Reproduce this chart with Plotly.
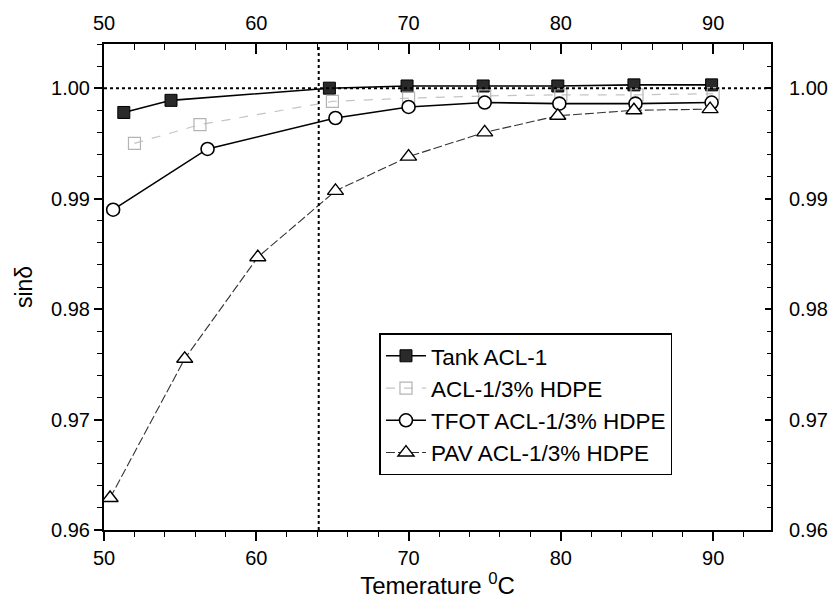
import plotly.graph_objects as go

# ---- data ----
tank_x = [51.3, 54.4, 64.8, 69.9, 74.9, 79.8, 84.8, 89.9]
tank_y = [0.9978, 0.9989, 1.0000, 1.0002, 1.0002, 1.0002, 1.0003, 1.0003]

hdpe_x = [52.0, 56.3, 65.0, 70.0, 75.0, 80.0, 85.0, 90.0]
hdpe_y = [0.9950, 0.9967, 0.9988, 0.9991, 0.9993, 0.9994, 0.9994, 0.9995]

tfot_x = [50.6, 56.8, 65.2, 70.0, 75.0, 79.9, 84.9, 89.9]
tfot_y = [0.9890, 0.9945, 0.9973, 0.9983, 0.9987, 0.9986, 0.9986, 0.9987]

pav_x = [50.4, 55.3, 60.1, 65.2, 70.0, 75.0, 79.8, 84.8, 89.8]
pav_y = [0.9629, 0.9755, 0.9847, 0.9907, 0.9938, 0.9960, 0.9975, 0.9980, 0.9981]

names = ["Tank ACL-1", "ACL-1/3% HDPE", "TFOT ACL-1/3% HDPE", "PAV ACL-1/3% HDPE"]

vline_x = 64.1
hline_y = 1.00
x_range = [50, 93.8]
y_range = [0.96, 1.004]
x_ticks = [50, 60, 70, 80, 90]
y_ticks = [0.96, 0.97, 0.98, 0.99, 1.00]

FONT = "Liberation Sans, Arial, sans-serif"

fig = go.Figure()

fig.add_trace(go.Scatter(
    x=tank_x, y=tank_y, name=names[0], mode="lines+markers",
    line=dict(color="black", width=1.6),
    marker=dict(symbol="square", size=12, color="#2a2a2a",
                line=dict(color="black", width=1))))
fig.add_trace(go.Scatter(
    x=hdpe_x, y=hdpe_y, name=names[1], mode="lines+markers",
    line=dict(color="#c4c4c4", width=1.2, dash="dash"),
    marker=dict(symbol="square-open", size=12, color="#b4b4b4",
                line=dict(color="#b4b4b4", width=1.2))))
fig.add_trace(go.Scatter(
    x=tfot_x, y=tfot_y, name=names[2], mode="lines+markers",
    line=dict(color="black", width=1.6),
    marker=dict(symbol="circle", size=13, color="white",
                line=dict(color="black", width=1.6))))
fig.add_trace(go.Scatter(
    x=pav_x, y=pav_y, name=names[3], mode="lines+markers",
    line=dict(color="#333333", width=1.1, dash="9px,3px"),
    marker=dict(symbol="triangle-up", size=14, color="white",
                line=dict(color="black", width=1.4))))

# invisible trace to anchor the top/right axes
fig.add_trace(go.Scatter(x=x_range, y=y_range, xaxis="x2", yaxis="y2",
                         mode="markers", marker=dict(opacity=0),
                         showlegend=False, hoverinfo="skip"))

# reference dotted lines
fig.add_shape(type="line", x0=vline_x, x1=vline_x, y0=0, y1=1,
              xref="x", yref="paper", line=dict(color="black", width=2, dash="dot"))
fig.add_shape(type="line", x0=0, x1=1, y0=hline_y, y1=hline_y,
              xref="paper", yref="y", line=dict(color="black", width=2, dash="dot"))

tickfont = dict(family=FONT, size=20, color="black")

fig.update_layout(
    width=840, height=608,
    margin=dict(l=104, r=60, t=43, b=78),
    paper_bgcolor="white", plot_bgcolor="white",
    font=dict(family=FONT, color="black"),
    showlegend=True,
    legend=dict(x=0.413, y=0.405, xanchor="left", yanchor="top",
                bgcolor="white", bordercolor="black", borderwidth=1.5,
                font=dict(family=FONT, size=22.5, color="black"),
                itemwidth=40),
    xaxis=dict(range=x_range, tickvals=x_ticks, ticks="outside", ticklen=9,
               tickwidth=1.5, tickcolor="black",
               minor=dict(dtick=2, tick0=50, ticks="outside", ticklen=5,
                          tickwidth=1.2, tickcolor="black"),
               showline=True, linecolor="black", linewidth=2,
               showgrid=False, zeroline=False, tickfont=tickfont,
               title=dict(text="Temerature <sup>0</sup>C",
                          font=dict(family=FONT, size=24, color="black"),
                          standoff=6)),
    xaxis2=dict(range=x_range, overlaying="x", side="top", tickvals=x_ticks,
                ticks="inside", ticklen=10, tickwidth=1.5, tickcolor="black",
                minor=dict(dtick=2, tick0=50, ticks="inside", ticklen=6,
                           tickwidth=1.2, tickcolor="black"),
                showline=True, linecolor="black", linewidth=2,
                showgrid=False, zeroline=False, tickfont=tickfont,
                ticklabelstandoff=4),
    yaxis=dict(range=y_range, tickvals=y_ticks, tickformat=".2f",
               ticks="outside", ticklen=8, tickwidth=1.5, tickcolor="black",
               minor=dict(dtick=0.002, tick0=0.96, ticks="outside", ticklen=5,
                          tickwidth=1.2, tickcolor="black"),
               showline=True, linecolor="black", linewidth=2,
               showgrid=False, zeroline=False, tickfont=tickfont,
               title=dict(text="sinδ", font=dict(family=FONT, size=23, color="black"),
                          standoff=12)),
    yaxis2=dict(range=y_range, overlaying="y", side="right", tickvals=y_ticks,
                tickformat=".2f", ticks="inside", ticklen=6, tickwidth=1.5,
                tickcolor="black",
                minor=dict(dtick=0.002, tick0=0.96, ticks="inside", ticklen=4,
                           tickwidth=1.2, tickcolor="black"),
                showline=True, linecolor="black", linewidth=2,
                showgrid=False, zeroline=False, tickfont=tickfont,
                ticklabelstandoff=12),
)

fig.write_html("out.html")
